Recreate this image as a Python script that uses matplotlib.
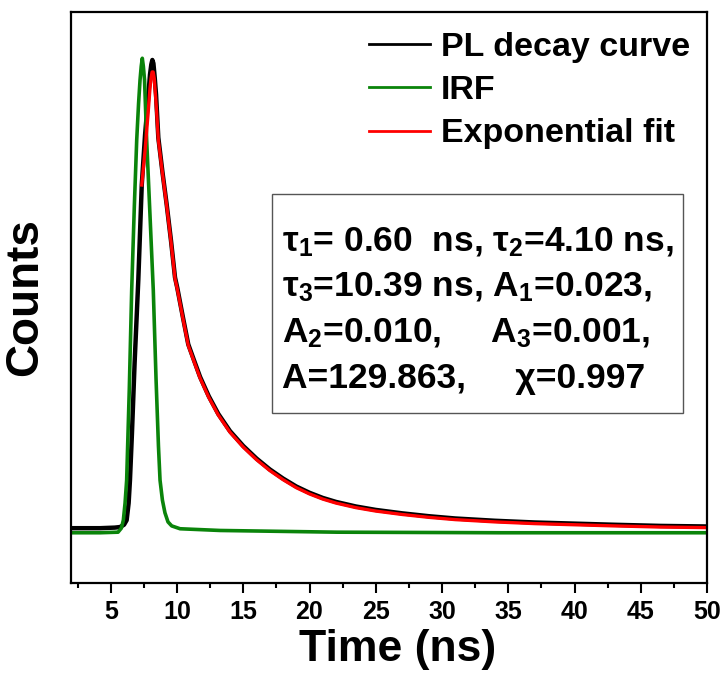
import matplotlib
matplotlib.use("Agg")
import matplotlib.pyplot as plt
from matplotlib.patches import Rectangle
from matplotlib.ticker import MultipleLocator

plt.rcParams["font.family"] = ["Liberation Sans", "DejaVu Sans"]
plt.rcParams["font.weight"] = "bold"
plt.rcParams["mathtext.default"] = "regular"

# PL decay (black)
t_pl = [2.0, 4.2, 5.3, 5.7, 6.0, 6.2, 6.35, 6.45, 6.6, 6.8, 7.08, 7.34, 7.59, 7.81,
        7.96, 8.06, 8.14, 8.22, 8.32, 8.42, 8.59, 8.9, 9.22, 9.55, 9.85, 10.02,
        10.45, 10.85, 11.3, 11.74, 12.4, 13.12, 14.0, 15.0, 16.0, 17.0, 18.0,
        19.0, 20.0, 21.0, 22.0, 23.5, 25.0, 27.0, 29.0, 31.0, 34.0, 37.0, 40.0,
        43.0, 46.5, 50.0]
counts_pl = [96, 96, 97, 98, 102, 110, 140, 180, 262, 385, 531, 697, 785, 846,
             890, 908, 916, 910, 885, 855, 780, 720, 663, 599, 535, 517,
             465, 418, 389, 361, 327, 296, 266, 240, 218, 199, 183,
             169, 158, 149, 142, 134, 128, 122, 117, 113, 109, 106, 104,
             102, 100, 99]

# instrument response (green)
t_irf = [2.0, 4.2, 5.55, 5.8, 5.95, 6.08, 6.2, 6.4, 6.58, 6.78, 6.96, 7.1, 7.21,
         7.3, 7.38, 7.46, 7.55, 7.71, 7.96, 8.21, 8.42, 8.6, 8.72, 8.9, 9.09,
         9.32, 9.6, 10.23, 13.25, 22.08, 34.38, 50.0]
counts_irf = [88, 88, 89, 96, 110, 140, 180, 340, 513, 660, 776, 840, 881,
              905, 919, 905, 881, 776, 645, 513, 356, 240, 180, 145, 123,
              107, 100, 95, 92, 89, 88, 88]

# three-exponential fit (red)
t_fit = [7.34, 7.59, 7.81, 7.96, 8.04, 8.12, 8.2, 8.28, 8.34, 8.45, 8.59, 8.9,
         9.22, 9.55, 9.85, 10.02, 10.45, 10.85, 11.3, 11.74, 12.4, 13.12, 14.0,
         15.0, 16.0, 17.0, 18.0, 19.0, 20.0, 21.0, 22.0, 23.5, 25.0, 27.0, 29.0,
         31.0, 34.0, 37.0, 40.0, 43.0, 46.5, 50.0]
counts_fit = [697, 758, 820, 866, 884, 895, 895, 884, 866, 830, 776, 718,
              661, 597, 533, 515, 463, 416, 387, 359, 325, 294, 264,
              238, 216, 197, 181, 167, 156, 147, 140, 132, 126, 120, 115,
              111, 107, 104, 102, 100, 98, 97]

fit_lines = [
    r"τ$_1$= 0.60  ns, τ$_2$=4.10 ns,",
    r"τ$_3$=10.39 ns, A$_1$=0.023,",
    r"A$_2$=0.010,     A$_3$=0.001,",
    r"A=129.863,     χ=0.997",
]

fig = plt.figure(figsize=(7.25, 6.82), dpi=100)
ax = fig.add_axes([71 / 725, 1 - 583 / 682, 636 / 725, 571 / 682])

ax.plot(t_pl, counts_pl, color="black", lw=3.2, label="PL decay curve")
ax.plot(t_irf, counts_irf, color="#0a840a", lw=2.6, label="IRF")
ax.plot(t_fit, counts_fit, color="#ff0000", lw=2.4, label="Exponential fit")

ax.set_xlim(2, 50)
ax.set_ylim(0, 1000)
ax.xaxis.set_major_locator(MultipleLocator(5))
ax.xaxis.set_minor_locator(MultipleLocator(2.5))
ax.set_yticks([])
ax.tick_params(axis="x", which="major", direction="out", length=7, width=1.5,
               labelsize=18, pad=5)
ax.tick_params(axis="x", which="minor", direction="out", length=3.5, width=1.5)
for sp in ax.spines.values():
    sp.set_linewidth(1.6)

ax.set_xlabel("Time (ns)", fontsize=32, fontweight="bold")
ax.xaxis.set_label_coords(0.5 + 9 / 636, -0.08, transform=ax.transAxes)
ax.xaxis.label.set_va("top")
ax.set_ylabel("Counts", fontsize=33, fontweight="bold", labelpad=17)

leg = ax.legend(loc="upper right", bbox_to_anchor=(0.973, 0.965), frameon=False,
                prop={"size": 24.5, "weight": "bold"}, handlelength=1.8,
                handletextpad=0.32, labelspacing=0.36, borderpad=0, borderaxespad=0)
for h in leg.get_lines():
    h.set_linewidth(2.0)

# parameter box
ax.add_patch(Rectangle((0.316, 0.298), 0.646, 0.383, transform=ax.transAxes,
                       fill=False, edgecolor="#555555", lw=1.0))
for i, line in enumerate(fit_lines):
    ax.text(0.332, 0.597 - i * 0.0795, line, transform=ax.transAxes,
            fontsize=25.5, fontweight="bold", va="center", ha="left")

fig.savefig("out.png", dpi=100)
